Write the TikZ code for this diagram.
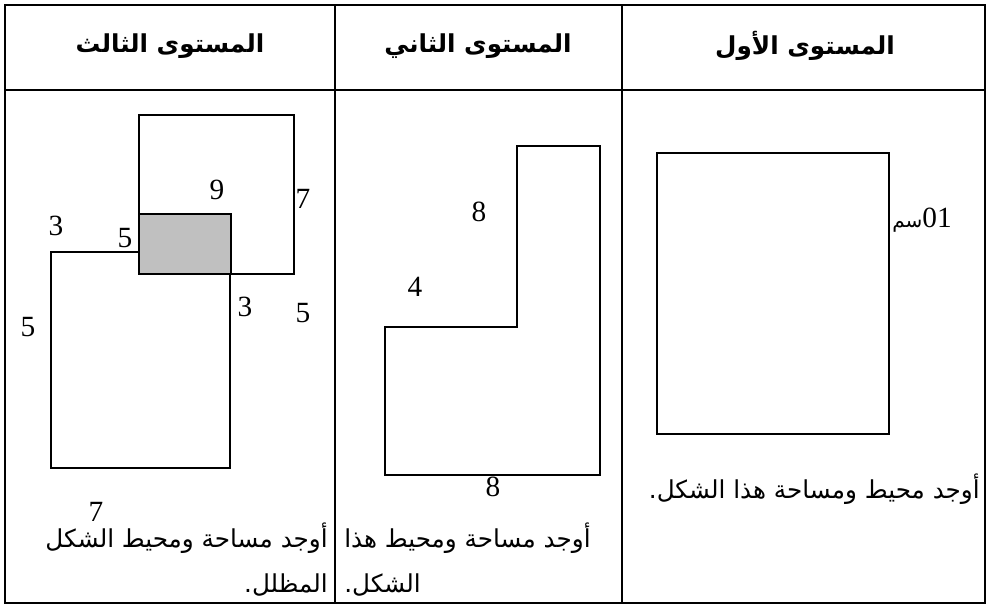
\documentclass[tikz,border=0pt]{standalone}
\usepackage{fontspec}
\setmainfont{Liberation Serif}
\newfontfamily\arabicfont[Script=Arabic]{DejaVu Sans}
\TeXXeTstate=1
\begin{document}
\begin{tikzpicture}[x=0.75pt,y=-0.75pt,
  tbl/.style={line width=1.4pt},
  shp/.style={line width=1.1pt},
  num/.style={inner sep=0pt,font=\fontsize{22}{24}\selectfont},
  head/.style={inner sep=0pt,font=\arabicfont\bfseries\fontsize{18.5}{20}\selectfont},
  body/.style={inner sep=0pt,font=\arabicfont\fontsize{18.5}{20}\selectfont}]
\useasboundingbox (0,0) rectangle (992,609);
\fill[white] (0,0) rectangle (992,609);
% table
\draw[tbl] (5,5) rectangle (985,603);
\draw[tbl] (5,90) -- (985,90);
\draw[tbl] (335,5) -- (335,603);
\draw[tbl] (622,5) -- (622,603);
% headers
\node[head] (h1) at (805,46) {\beginR المستوى الأول\endR};
\node[head] (h2) at (478,46) {\beginR المستوى الثاني\endR};
\node[head] (h3) at (170,46) {\beginR المستوى الثالث\endR};
% column 1
\draw[shp] (657,153) rectangle (889,434);
\node[inner sep=0pt,anchor=west] (c1lab) at (892,220) {{\arabicfont\fontsize{15}{17}\selectfont\beginR سم\endR}{\fontsize{22}{24}\selectfont 01}};
\node[body,anchor=east] (t1) at (980,489) {\beginR أوجد محيط ومساحة هذا الشكل.\endR};
% column 2
\draw[shp] (385,327) -- (517,327) -- (517,146) -- (600,146) -- (600,475) -- (385,475) -- cycle;
\node[num] (n8a) at (479,212) {8};
\node[num] (n4) at (415,287) {4};
\node[num] (n8b) at (493,487) {8};
\node[body,anchor=west] (t2a) at (344,538) {\beginR أوجد مساحة ومحيط هذا\endR};
\node[body,anchor=west] (t2b) at (344,585) {\beginR الشكل.\endR};
% column 3
\draw[shp] (139,115) rectangle (294,274);
\draw[shp] (51,252) rectangle (230,468);
\draw[line width=2pt,fill={rgb,255:red,192;green,192;blue,192}] (139,214) rectangle (231,274);
\node[num] (m9) at (217,190) {9};
\node[num] (m7a) at (303,199) {7};
\node[num] (m3a) at (56,226) {3};
\node[num] (m5a) at (125,238) {5};
\node[num] (m5b) at (28,327) {5};
\node[num] (m3b) at (245,307) {3};
\node[num] (m5c) at (303,313) {5};
\node[num] (m7b) at (96,512) {7};
\node[body,anchor=east] (t3a) at (328,538) {\beginR أوجد مساحة ومحيط الشكل\endR};
\node[body,anchor=east] (t3b) at (328,585) {\beginR المظلل.\endR};
\end{tikzpicture}
\end{document}
